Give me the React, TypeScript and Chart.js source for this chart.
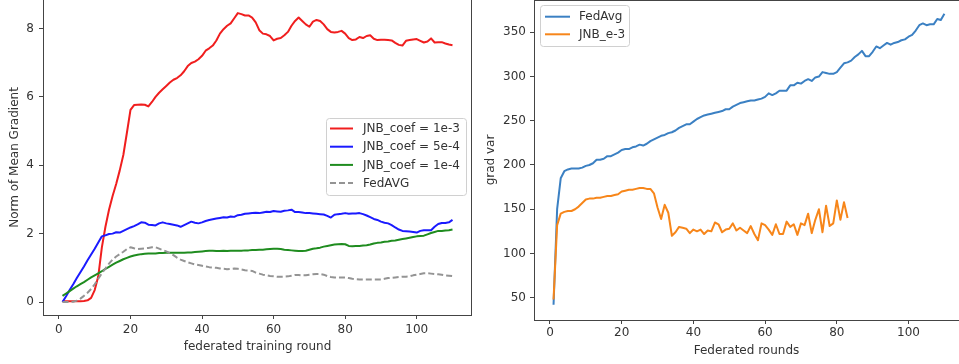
import React, { useEffect, useRef } from 'react';
import { Chart, registerables } from 'chart.js';

Chart.register(...registerables);

const FONT = '"DejaVu Sans", sans-serif';

// ---------- tick labels ----------
const xTicks = [0, 20, 40, 60, 80, 100];
const leftYTicks = [0, 2, 4, 6, 8];
const rightYTicks = [50, 100, 150, 200, 250, 300, 350];

// ---------- left chart: Norm of Mean Gradient (rounds 1..110) ----------
const jnbCoef1e3 = [
  0.02, 0.02, 0.02, 0.02, 0.02, 0.02, 0.03, 0.05, 0.12, 0.35,
  0.75, 1.6, 2.2, 2.7, 3.1, 3.45, 3.85, 4.3, 4.95, 5.62,
  5.76, 5.77, 5.78, 5.77, 5.72, 5.85, 6.0, 6.12, 6.22, 6.32,
  6.42, 6.5, 6.55, 6.63, 6.75, 6.9, 6.99, 7.03, 7.1, 7.2,
  7.35, 7.42, 7.5, 7.65, 7.85, 7.98, 8.08, 8.15, 8.3, 8.45,
  8.42, 8.38, 8.38, 8.32, 8.18, 7.95, 7.85, 7.83, 7.78, 7.65,
  7.7, 7.72, 7.8, 7.9, 8.08, 8.22, 8.32, 8.22, 8.12, 8.05,
  8.2, 8.25, 8.22, 8.12, 7.98, 7.9, 7.88, 7.9, 7.93, 7.85,
  7.72, 7.66, 7.68, 7.75, 7.72, 7.78, 7.8, 7.7, 7.66, 7.67,
  7.67, 7.66, 7.65, 7.58, 7.52, 7.5, 7.64, 7.66, 7.68, 7.69,
  7.64, 7.59, 7.62, 7.71, 7.59, 7.6, 7.6, 7.56, 7.53, 7.51,
];
const jnbCoef5e4 = [
  0.0, 0.17, 0.35, 0.52, 0.7, 0.87, 1.04, 1.22, 1.39, 1.56,
  1.74, 1.92, 1.95, 1.99, 2.0, 2.04, 2.03, 2.08, 2.13, 2.18,
  2.22, 2.27, 2.33, 2.32, 2.26, 2.25, 2.24, 2.3, 2.33, 2.3,
  2.28, 2.26, 2.24, 2.2, 2.25, 2.3, 2.35, 2.32, 2.3, 2.33,
  2.37, 2.4, 2.42, 2.44, 2.46, 2.48, 2.47, 2.5, 2.49, 2.54,
  2.55, 2.58, 2.59, 2.6, 2.61, 2.6, 2.62, 2.64, 2.63, 2.66,
  2.65, 2.64, 2.67, 2.68, 2.7, 2.63, 2.63, 2.62, 2.6, 2.6,
  2.59, 2.58, 2.57, 2.56, 2.52, 2.47, 2.55, 2.57, 2.58, 2.6,
  2.58, 2.59, 2.59, 2.6, 2.57, 2.53, 2.48, 2.43, 2.4, 2.35,
  2.32, 2.3, 2.25, 2.18, 2.12, 2.08, 2.07, 2.06, 2.05, 2.03,
  2.08, 2.1, 2.1, 2.1, 2.2, 2.28, 2.31, 2.31, 2.33, 2.4,
];
const jnbCoef1e4 = [
  0.18, 0.25, 0.32, 0.39, 0.46, 0.52, 0.58, 0.65, 0.72, 0.78,
  0.84, 0.9, 0.97, 1.03, 1.09, 1.15, 1.2, 1.25, 1.29, 1.33,
  1.36, 1.38, 1.4, 1.41, 1.42, 1.42, 1.42, 1.43, 1.43, 1.44,
  1.44, 1.44, 1.44, 1.44, 1.44, 1.45, 1.45, 1.46, 1.47, 1.48,
  1.49, 1.5, 1.5, 1.49, 1.49, 1.5, 1.49, 1.5, 1.5, 1.5,
  1.5, 1.51, 1.51, 1.52, 1.52, 1.53, 1.53, 1.54, 1.55, 1.56,
  1.56, 1.55, 1.53, 1.52, 1.51, 1.5, 1.49, 1.49, 1.5, 1.53,
  1.56, 1.57, 1.59, 1.62, 1.64, 1.66, 1.68, 1.69, 1.7, 1.69,
  1.64, 1.63, 1.64, 1.64, 1.65, 1.66, 1.68, 1.71, 1.73, 1.74,
  1.76, 1.77, 1.79, 1.8, 1.82, 1.84, 1.86, 1.88, 1.9, 1.92,
  1.93, 1.94, 1.98, 2.02, 2.05, 2.08, 2.08, 2.09, 2.1, 2.12,
];
const fedAvgNorm = [
  0.0, 0.0, 0.0, 0.01, 0.04, 0.1, 0.18, 0.27, 0.38, 0.52,
  0.68, 0.84, 0.98, 1.12, 1.24, 1.33, 1.4, 1.47, 1.55, 1.6,
  1.57, 1.55, 1.56, 1.57, 1.58, 1.6, 1.6, 1.56, 1.52, 1.48,
  1.43, 1.37, 1.3, 1.24, 1.2, 1.16, 1.13, 1.1, 1.08, 1.06,
  1.04, 1.02, 1.01, 1.0, 0.98, 0.97, 0.96, 0.97, 0.98, 0.97,
  0.95, 0.93, 0.92, 0.91, 0.86, 0.83, 0.8, 0.78, 0.76, 0.75,
  0.74, 0.74, 0.74, 0.75, 0.77, 0.79, 0.79, 0.78, 0.78, 0.8,
  0.81, 0.82, 0.82, 0.8, 0.76, 0.73, 0.72, 0.72, 0.72, 0.72,
  0.7, 0.68, 0.67, 0.66, 0.66, 0.66, 0.66, 0.66, 0.66, 0.66,
  0.68, 0.7, 0.71, 0.72, 0.73, 0.74, 0.74, 0.75, 0.78, 0.8,
  0.82, 0.84, 0.84, 0.83, 0.82, 0.81, 0.8, 0.78, 0.77, 0.76,
];

// ---------- right chart: grad var ----------
const fedAvgVar = [
  42, 150, 185, 193, 195, 196, 196, 196, 197, 199,
  200, 202, 206, 206, 207, 210, 210, 212, 214, 217,
  218, 218, 220, 221, 223, 222, 224, 227, 229, 231,
  233, 234, 236, 237, 239, 242, 244, 246, 246, 249,
  252, 254, 256, 257, 258, 259, 260, 261, 263, 263,
  266, 268, 270, 271, 272, 273, 273, 274, 275, 277,
  281, 279, 281, 284, 284, 284, 290, 290, 293, 292,
  295, 297, 295, 299, 300, 305, 304, 303, 303, 305,
  310, 315, 316, 318, 322, 325, 329, 323, 323, 328,
  334, 332, 335, 338, 336, 338, 339, 341, 342, 345,
  347, 352, 358, 360, 358, 359, 359, 365, 364, 371,
];
const jnbE3Var = [
  48, 132, 145, 147, 148, 148, 150, 153, 157, 161,
  162, 162, 163, 163, 164, 165, 165, 166, 167, 170,
  171, 172, 172, 173, 174, 174, 173, 173, 168, 152,
  139, 155, 146, 120, 124, 130, 129, 128, 123, 127,
  125, 127, 122, 126, 125, 135, 133, 124, 127, 128,
  134, 126, 129, 126, 123, 131, 122, 115, 134, 132,
  127, 121, 133, 122, 122, 136, 130, 133, 121, 134,
  132, 145, 123, 138, 150, 124, 154, 131, 134, 160,
  138, 158, 140,
];

const toPoints = (vals: number[]) => vals.map((v, i) => ({ x: i + 1, y: v }));

const framePlugin = {
  id: 'frame',
  afterDatasetsDraw(chart: any, _args: any, opts: any) {
    const { ctx, chartArea } = chart;
    const { left, right, top, bottom } = chartArea;
    const sides: string = (opts && opts.sides) || 'ltrb';
    const L = Math.round(left) + 0.5;
    const R = Math.round(right) - 0.5;
    const T = Math.round(top) + 0.5;
    const B = Math.round(bottom) + 0.5;
    ctx.save();
    ctx.strokeStyle = '#444';
    ctx.lineWidth = 1;
    ctx.beginPath();
    if (sides.includes('l')) { ctx.moveTo(L, T - 1); ctx.lineTo(L, B + 0.5); }
    if (sides.includes('r')) { ctx.moveTo(R, T - 1); ctx.lineTo(R, B + 0.5); }
    if (sides.includes('t')) { ctx.moveTo(L - 0.5, T); ctx.lineTo(R + 0.5, T); }
    if (sides.includes('b')) { ctx.moveTo(L - 0.5, B); ctx.lineTo(R + 0.5, B); }
    ctx.stroke();
    ctx.restore();
  },
};

const legendPlugin = {
  id: 'mplLegend',
  afterDraw(chart: any, _args: any, o: any) {
    if (!o || !o.box) return;
    const { ctx } = chart;
    const [bx, by, bw, bh] = o.box;
    ctx.save();
    ctx.fillStyle = 'rgba(255,255,255,0.85)';
    ctx.strokeStyle = '#d0d0d0';
    ctx.lineWidth = 1;
    ctx.beginPath();
    if ((ctx as any).roundRect) (ctx as any).roundRect(bx + 0.5, by + 0.5, bw, bh, 3);
    else ctx.rect(bx + 0.5, by + 0.5, bw, bh);
    ctx.fill();
    ctx.stroke();
    ctx.font = `12px ${FONT}`;
    ctx.textBaseline = 'middle';
    ctx.textAlign = 'left';
    chart.data.datasets.forEach((ds: any, i: number) => {
      const y = o.rowY + i * o.rowStep;
      ctx.strokeStyle = ds.borderColor;
      ctx.lineWidth = ds.borderWidth;
      ctx.setLineDash(ds.borderDash || []);
      ctx.beginPath();
      ctx.moveTo(o.sampleX0, y);
      ctx.lineTo(o.sampleX1, y);
      ctx.stroke();
      ctx.setLineDash([]);
      ctx.fillStyle = '#333';
      ctx.fillText(ds.label, o.textX, y + 0.5);
    });
    ctx.restore();
  },
};

function axisCommon(ticks: number[], tickPad: number) {
  return {
    type: 'linear' as const,
    grid: { display: true, drawOnChartArea: false, drawTicks: true, tickLength: 4, color: '#444', lineWidth: 1 },
    border: { display: false },
    ticks: { color: '#333', font: { family: FONT, size: 12 }, padding: tickPad, maxRotation: 0, autoSkip: false },
    afterBuildTicks: (s: any) => { s.ticks = ticks.map((v) => ({ value: v })); },
  };
}

const fixX = (h: number) => (s: any) => {
  s.height = h;
  s.paddingLeft = 0; s.paddingRight = 0; s.paddingTop = 0; s.paddingBottom = 0;
};
const fixY = (w: number) => (s: any) => {
  s.width = w;
  s.paddingLeft = 0; s.paddingRight = 0; s.paddingTop = 0; s.paddingBottom = 0;
};

function LeftChart() {
  const ref = useRef<HTMLCanvasElement>(null);
  useEffect(() => {
    const chart = new Chart(ref.current!, {
      type: 'line',
      data: {
        datasets: [
          { label: 'JNB_coef = 1e-3', data: toPoints(jnbCoef1e3), borderColor: '#f01e1e', borderWidth: 2, order: 3 },
          { label: 'JNB_coef = 5e-4', data: toPoints(jnbCoef5e4), borderColor: '#1a1aff', borderWidth: 2, order: 2 },
          { label: 'JNB_coef = 1e-4', data: toPoints(jnbCoef1e4), borderColor: '#1f8c1f', borderWidth: 2, order: 1 },
          { label: 'FedAVG', data: toPoints(fedAvgNorm), borderColor: '#949494', borderWidth: 2, borderDash: [6, 3], order: 0 },
        ] as any,
      },
      options: {
        responsive: false,
        animation: false,
        events: [],
        layout: { autoPadding: false, padding: { left: 0, right: 8, top: 0, bottom: 0 } } as any,
        elements: { point: { radius: 0 }, line: { tension: 0, borderJoinStyle: 'round', fill: false } },
        plugins: {
          legend: { display: false },
          tooltip: { enabled: false },
          frame: { sides: 'lrb' },
          mplLegend: { box: [326, 118, 140, 77], rowY: 128.5, rowStep: 18.2, sampleX0: 330, sampleX1: 353, textX: 363 },
        } as any,
        scales: {
          x: {
            ...axisCommon(xTicks, 4),
            min: -4.45,
            max: 115.45,
            title: { display: true, text: 'federated training round', color: '#333', font: { family: FONT, size: 12 }, padding: { top: 0, bottom: 10 } },
            afterFit: fixX(49),
          },
          y: {
            ...axisCommon(leftYTicks, 5),
            min: -0.38,
            max: 8.833,
            title: { display: true, text: 'Norm of Mean Gradient', color: '#333', font: { family: FONT, size: 12 }, padding: { top: 8, bottom: 0 } },
            afterFit: fixY(43),
          },
        } as any,
      },
      plugins: [framePlugin, legendPlugin],
    });
    return () => chart.destroy();
  }, []);
  return <canvas ref={ref} width={480} height={364} style={{ position: 'absolute', left: 0, top: 0, width: 480, height: 364 }} />;
}

function RightChart() {
  const ref = useRef<HTMLCanvasElement>(null);
  useEffect(() => {
    const chart = new Chart(ref.current!, {
      type: 'line',
      data: {
        datasets: [
          { label: 'FedAvg', data: toPoints(fedAvgVar), borderColor: '#3b80c3', borderWidth: 2, order: 1 },
          { label: 'JNB_e-3', data: toPoints(jnbE3Var), borderColor: '#f7861a', borderWidth: 2, order: 0 },
        ] as any,
      },
      options: {
        responsive: false,
        animation: false,
        events: [],
        layout: { autoPadding: false, padding: { left: 0, right: 0, top: 0, bottom: 0 } } as any,
        elements: { point: { radius: 0 }, line: { tension: 0, borderJoinStyle: 'round', fill: false } },
        plugins: {
          legend: { display: false },
          tooltip: { enabled: false },
          frame: { sides: 'ltb' },
          mplLegend: { box: [60, 5, 89, 41], rowY: 16.7, rowStep: 17.6, sampleX0: 65, sampleX1: 90, textX: 99 },
        } as any,
        scales: {
          x: {
            ...axisCommon(xTicks, 2),
            min: -4.45,
            max: 114.07,
            title: { display: true, text: 'Federated rounds', color: '#333', font: { family: FONT, size: 12 }, padding: { top: 0, bottom: 6 } },
            afterFit: fixX(44),
          },
          y: {
            ...axisCommon(rightYTicks, 4),
            min: 24.8,
            max: 386.5,
            title: { display: true, text: 'grad var', color: '#333', font: { family: FONT, size: 12 }, padding: { top: 4, bottom: 0 } },
            afterFit: fixY(54),
          },
        } as any,
      },
      plugins: [framePlugin, legendPlugin],
    });
    return () => chart.destroy();
  }, []);
  return <canvas ref={ref} width={479} height={364} style={{ position: 'absolute', left: 480, top: 0, width: 479, height: 364 }} />;
}

export default function App() {
  return (
    <div style={{ position: 'fixed', left: 0, top: 0, width: 959, height: 364, background: '#fff', overflow: 'hidden' }}>
      <LeftChart />
      <RightChart />
    </div>
  );
}
